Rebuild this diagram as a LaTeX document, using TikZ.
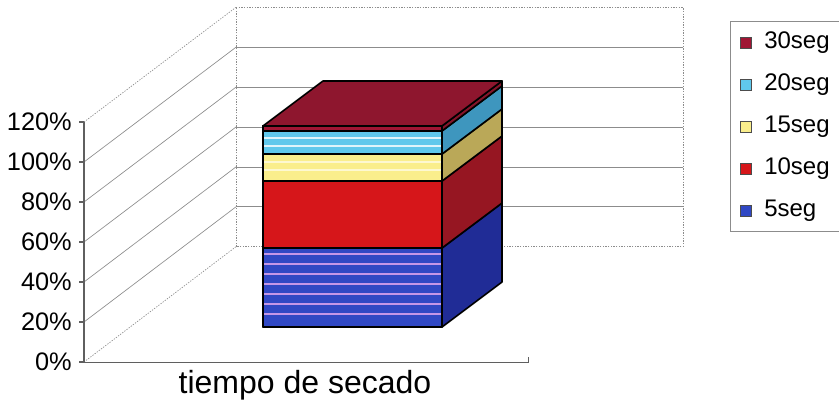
\documentclass[tikz,border=0pt]{standalone}
\usepackage{fontspec}
\setmainfont{Liberation Sans}
\definecolor{fiveF}{RGB}{48,72,196}
\definecolor{fiveS}{RGB}{32,44,150}
\definecolor{fiveL}{RGB}{196,150,232}
\definecolor{tenF}{RGB}{214,22,26}
\definecolor{tenS}{RGB}{150,22,34}
\definecolor{fifteenF}{RGB}{250,238,140}
\definecolor{fifteenS}{RGB}{186,168,88}
\definecolor{twentyF}{RGB}{96,200,236}
\definecolor{twentyS}{RGB}{62,150,190}
\definecolor{thirtyF}{RGB}{160,22,52}
\definecolor{thirtyS}{RGB}{132,20,42}
\definecolor{thirtyT}{RGB}{142,22,46}
\definecolor{gridgray}{RGB}{140,140,140}
\definecolor{axisgray}{RGB}{95,95,95}
\begin{document}
\begin{tikzpicture}[x=0.75pt,y=0.75pt,yscale=-1,xscale=1,
  grid/.style={color=gridgray,line width=0.5pt},
  edge/.style={color=gridgray,line width=0.5pt,dash pattern={on 1pt off 1pt}},
  face/.style={draw=black,line width=1.2pt,line join=round},
  swatch/.style={draw=black!70,line width=0.6pt,minimum size=8pt,inner sep=0pt},
  tick/.style={anchor=east,inner sep=0pt,font=\fontsize{19}{22}\selectfont},
  legtext/.style={anchor=west,inner sep=0pt,font=\fontsize{18}{21}\selectfont}]
\path[use as bounding box] (0,0) rectangle (839,416);

%Shape: Back wall gridlines
\foreach \k in {1,...,5}
  \draw[grid] (236,246.7-39.9*\k) -- (683,246.7-39.9*\k);
%Shape: Back wall frame
\draw[edge] (236,7.3) -- (683,7.3) -- (683,246.7) -- (236,246.7) -- cycle;
%Straight Lines: side wall
\foreach \k in {1,...,5}
  \draw[grid] (84,362-40*\k) -- (236,246.7-39.9*\k);
\draw[edge] (84,122) -- (236,7.3);
\draw[edge] (84,362) -- (236,246.7);
%Straight Lines: floor front edge
\draw[color=axisgray,line width=0.6pt] (84,362) -- (528,362) -- (528,357);
%Straight Lines: value axis and ticks
\draw[color=axisgray,line width=0.8pt] (84,122) -- (84,362);
\foreach \k in {0,...,6}
  \draw[color=axisgray,line width=0.8pt] (79,362-40*\k) -- (84,362-40*\k);

%Shape: Stacked bar, front and side faces
\foreach \ybot/\ytop/\cf/\cs in {327/248/fiveF/fiveS,248/181/tenF/tenS,181/154/fifteenF/fifteenS,154/131/twentyF/twentyS,131/126/thirtyF/thirtyS}{
  \draw[face,fill=\cf] (263,\ybot) rectangle (442,\ytop);
  \draw[face,fill=\cs] (442,\ybot) -- (502,\ybot-45) -- (502,\ytop-45) -- (442,\ytop) -- cycle;
}
%Shape: Stacked bar, stripes
\foreach \y in {254,264,...,320}
  \draw[color=fiveL,line width=0.8pt] (264,\y) -- (441,\y);
\foreach \y in {138,146}
  \draw[color=white!80!twentyF,line width=1pt] (264,\y) -- (441,\y);
\foreach \y in {162,170}
  \draw[color=white!60!fifteenF,line width=1pt] (264,\y) -- (441,\y);
\draw[face] (263,327) rectangle (442,126);
%Shape: Stacked bar, top face
\draw[face,fill=thirtyT] (263,126) -- (323,81) -- (502,81) -- (442,126) -- cycle;

% Text Node: axis labels
\foreach \k [evaluate=\k as \p using int(20*\k)] in {0,...,6}
  \node[tick] (lbl\k) at (72,362-40*\k) {\p\%};
% Text Node: category
\node[anchor=base,inner sep=0pt,font=\fontsize{24}{28}\selectfont] (cat) at (305,394) {tiempo de secado};

%Shape: Legend frame
\draw[color=gridgray,line width=0.6pt] (840,21.7) -- (730,21.7) -- (730,231.7) -- (840,231.7);
% Text Node: legend entries
\foreach \i/\lab/\col in {0/30seg/thirtyF,1/20seg/twentyF,2/15seg/fifteenF,3/10seg/tenF,4/5seg/fiveF}{
  \node[swatch,fill=\col] (sw\i) at (746,43+42*\i) {};
  \node[legtext] (leg\i) at (764,43+42*\i) {\lab};
}
\end{tikzpicture}
\end{document}
